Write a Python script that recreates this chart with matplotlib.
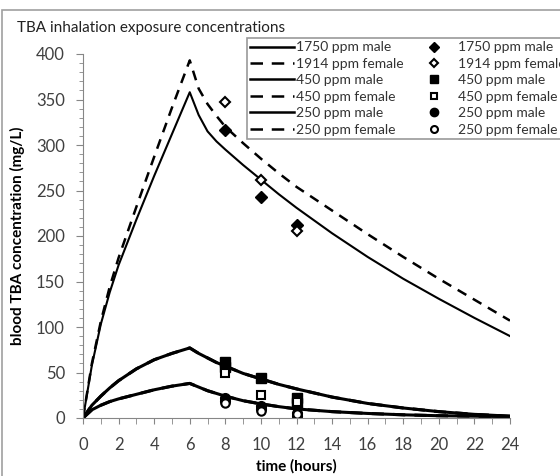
import matplotlib
matplotlib.use("Agg")
import matplotlib.pyplot as plt
from matplotlib.lines import Line2D
from matplotlib.patches import Rectangle
from matplotlib.ticker import MultipleLocator

plt.rcParams['font.family'] = ['Lato', 'DejaVu Sans']

# model time grid (hours)
t_model = [0, 0.5, 1, 1.5, 2, 3, 4, 5, 6, 6.5, 7, 7.5, 8, 9, 10, 11, 12, 14, 16, 18, 20, 22, 24]

# simulated blood TBA (mg/L)
sim_1750_m = [0, 58, 103, 138, 168, 218, 266, 312, 358, 333, 315, 304, 295, 278, 262, 246, 231, 203, 177, 153, 131, 110, 90]
sim_1914_f = [0, 60, 106, 144, 176, 232, 287, 341, 393, 362, 345, 332, 320, 302, 285, 269, 254, 228, 202, 177, 153, 130, 107]
sim_450_m = [0, 14, 24, 33, 41, 54, 64, 71, 77, 71, 66, 61, 57, 49, 43, 37, 32, 23, 16, 11, 7, 4, 2]
sim_450_f = [0, 14, 24, 33, 41, 54, 64, 71, 77, 71, 66, 61, 57, 49, 43, 37, 32, 23, 16, 11, 7, 4, 2]
sim_250_m = [0, 9, 14, 18, 21, 26, 31, 35, 38, 34, 30, 27, 24, 19, 15.5, 12.5, 10, 7, 5, 3.5, 2.5, 2, 1.5]
sim_250_f = [0, 9, 14, 18, 21, 26, 31, 35, 38, 34, 30, 27, 24, 19, 15.5, 12.5, 10, 7, 5, 3.5, 2.5, 2, 1.5]

# measured data
t_1750_m = [8, 10, 12]
obs_1750_m = [317, 243, 212]
t_1914_f = [8, 10, 12]
obs_1914_f = [347, 262, 205]
t_450_m = [8, 8, 10, 12, 12]
obs_450_m = [62, 56, 44, 22, 16]
t_450_f = [8, 10, 12]
obs_450_f = [50, 25, 18]
t_250_m = [8, 8, 10, 10, 12, 12]
obs_250_m = [22, 19, 13, 10, 6, 2]
t_250_f = [8, 10, 12]
obs_250_f = [17, 8, 4]

labels = ['1750 ppm male', '1914 ppm female', '450 ppm male',
          '450 ppm female', '250 ppm male', '250 ppm female']

W, H = 560, 476
fig = plt.figure(figsize=(W / 100, H / 100), dpi=100)
fig.patches.append(Rectangle((2 / W, -0.1), 1.2, 1 - 10 / H + 0.1, transform=fig.transFigure,
                             fill=False, edgecolor='#a0a0a0', linewidth=1.2))

ax = fig.add_axes([83 / W, (H - 418) / H, (510 - 83) / W, (418 - 54) / H])

dash = (0, (4, 3))
ax.plot(t_model, sim_1914_f, color='black', lw=1.8, linestyle=dash)
ax.plot(t_model, sim_1750_m, color='black', lw=1.5)
ax.plot(t_model, sim_450_f, color='black', lw=2.2, linestyle=dash)
ax.plot(t_model, sim_450_m, color='black', lw=2.2)
ax.plot(t_model, sim_250_f, color='black', lw=2.2, linestyle=dash)
ax.plot(t_model, sim_250_m, color='black', lw=2.2)

ax.plot(t_1750_m, obs_1750_m, 'D', color='black', ms=6.5, ls='none')
ax.plot(t_1914_f, obs_1914_f, 'D', mfc='white', mec='black', mew=1.5, ms=5, ls='none')
ax.plot(t_450_m, obs_450_m, 's', color='black', ms=7.5, ls='none')
ax.plot(t_450_f, obs_450_f, 's', mfc='white', mec='black', mew=1.5, ms=6, ls='none')
ax.plot(t_250_m, obs_250_m, 'o', color='black', ms=7, ls='none')
ax.plot(t_250_f, obs_250_f, 'o', mfc='white', mec='black', mew=1.5, ms=6, ls='none')

ax.set_xlim(0, 24)
ax.set_ylim(0, 400)
ax.xaxis.set_major_locator(MultipleLocator(2))
ax.xaxis.set_minor_locator(MultipleLocator(1))
ax.yaxis.set_major_locator(MultipleLocator(50))
ax.yaxis.set_minor_locator(MultipleLocator(10))
for s in ['top', 'right']:
    ax.spines[s].set_visible(False)
for s in ['left', 'bottom']:
    ax.spines[s].set_color('#868686')
ax.tick_params(axis='both', which='both', color='#868686', labelcolor='#404040', labelsize=12)
ax.tick_params(axis='x', which='both', length=4, pad=10)
ax.tick_params(axis='y', which='major', length=5, pad=8)
ax.tick_params(axis='y', which='minor', length=3)

ax.set_xlabel('time (hours)', fontsize=11, fontweight='bold', labelpad=4)
ax.set_ylabel('blood TBA concentration (mg/L)', fontsize=11, fontweight='bold', labelpad=8)

fig.text(17 / W, 1 - 28 / H, 'TBA inhalation exposure concentrations', fontsize=11,
         va='center', ha='left', color='#222222')

# legend: model lines on the left, measured points on the right
leg_dash = (0, (5, 3.5))
line_handles = [
    Line2D([], [], color='black', lw=1.8),
    Line2D([], [], color='black', lw=1.8, linestyle=leg_dash),
    Line2D([], [], color='black', lw=1.8),
    Line2D([], [], color='black', lw=1.8, linestyle=leg_dash),
    Line2D([], [], color='black', lw=1.8),
    Line2D([], [], color='black', lw=1.8, linestyle=leg_dash),
]
marker_handles = [
    Line2D([], [], marker='D', color='black', ms=5, ls='none'),
    Line2D([], [], marker='D', mfc='white', mec='black', mew=1.5, ms=4, ls='none'),
    Line2D([], [], marker='s', color='black', ms=6, ls='none'),
    Line2D([], [], marker='s', mfc='white', mec='black', mew=1.5, ms=5, ls='none'),
    Line2D([], [], marker='o', color='black', ms=6, ls='none'),
    Line2D([], [], marker='o', mfc='white', mec='black', mew=1.5, ms=5, ls='none'),
]
leg = fig.legend(line_handles + marker_handles, labels + labels, ncol=2,
                 loc='upper left', bbox_to_anchor=(247 / W, 1 - 38 / H),
                 fontsize=10, frameon=True, fancybox=False, edgecolor='#808080',
                 handlelength=3.1, handletextpad=0.2, columnspacing=0.6,
                 labelspacing=0.32, borderpad=0.25, borderaxespad=0)
leg.get_frame().set_linewidth(1.2)
for txt in leg.get_texts():
    txt.set_color('#333333')

fig.savefig('out.png', dpi=100)
